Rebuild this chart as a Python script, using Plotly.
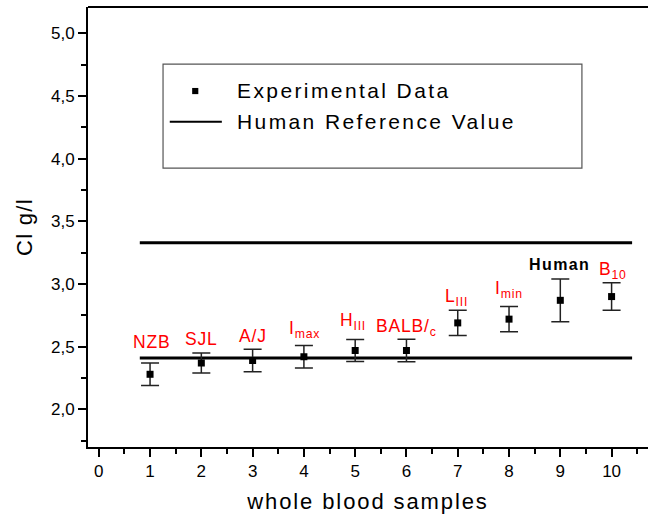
import plotly.graph_objects as go

# ---- data ----
samples = [1, 2, 3, 4, 5, 6, 7, 8, 9, 10]
cl_values = [2.28, 2.37, 2.39, 2.42, 2.47, 2.47, 2.69, 2.72, 2.87, 2.90]
cl_errors = [0.09, 0.08, 0.09, 0.09, 0.087, 0.09, 0.10, 0.10, 0.17, 0.11]
labels = ["NZB", "SJL", "A/J", "I<sub>max</sub>", "H<sub>III</sub>", "BALB/<sub>c</sub>",
          "L<sub>III</sub>", "I<sub>min</sub>", "<b>Human</b>", "B<sub>10</sub>"]
label_x = [1.03, 2.0, 3.0, 4.02, 4.95, 6.01, 6.97, 7.99, 8.99, 10.02]
label_y = [2.537, 2.565, 2.585, 2.64, 2.70, 2.65, 2.89, 2.955, 3.158, 3.11]
label_colors = ["#ff0000"] * 8 + ["#000000", "#ff0000"]
ref_x = [0.8, 10.4]
ref_low = 2.41
ref_high = 3.33
x_ticks = list(range(0, 11))
legend_labels = ["Experimental Data", "Human Reference Value"]

FONT = "Liberation Sans"


def spaced(t, ls):
    return f'<span style="letter-spacing:{ls}px">{t}</span>'


fig = go.Figure()

# Human reference value lines
fig.add_trace(go.Scatter(
    x=ref_x + [None] + ref_x,
    y=[ref_low, ref_low, None, ref_high, ref_high],
    mode="lines", line=dict(color="black", width=3),
    name=legend_labels[1], hoverinfo="skip"))

# Experimental data
fig.add_trace(go.Scatter(
    x=samples, y=cl_values, mode="markers",
    marker=dict(symbol="square", size=7, color="black"),
    error_y=dict(type="data", array=cl_errors, visible=True,
                 color="#222222", thickness=1.5, width=9),
    name=legend_labels[0]))

# labels
for x, y, t, c in zip(label_x, label_y, labels, label_colors):
    black = c == "#000000"
    fig.add_annotation(x=x, y=y, text=spaced(t, 1.4 if black else 0.8),
                       showarrow=False, xanchor="center", yanchor="middle",
                       font=dict(family=FONT, size=16 if black else 17.5, color=c))

# legend box (manual)
fig.add_shape(type="rect", xref="paper", yref="paper",
              x0=0.134, x1=0.882, y0=0.634, y1=0.870,
              line=dict(color="#555555", width=1.2), fillcolor="white", layer="below")
fig.add_shape(type="rect", xref="paper", yref="paper",
              x0=0.186, x1=0.197, y0=0.802, y1=0.816,
              line=dict(width=0), fillcolor="black")
fig.add_shape(type="line", xref="paper", yref="paper",
              x0=0.146, x1=0.239, y0=0.739, y1=0.739,
              line=dict(color="black", width=2))
fig.add_annotation(xref="paper", yref="paper", x=0.262, y=0.810,
                   text=spaced(legend_labels[0], 2.4), showarrow=False,
                   xanchor="left", yanchor="middle",
                   font=dict(family=FONT, size=21, color="black"))
fig.add_annotation(xref="paper", yref="paper", x=0.262, y=0.739,
                   text=spaced(legend_labels[1], 2.4), showarrow=False,
                   xanchor="left", yanchor="middle",
                   font=dict(family=FONT, size=21, color="black"))

# top frame line
fig.add_shape(type="line", xref="paper", yref="paper", x0=0, x1=1, y0=1, y1=1,
              line=dict(color="black", width=2))

fig.update_layout(
    width=648, height=516,
    margin=dict(l=88, r=0, t=7, b=69, pad=0),
    plot_bgcolor="white", paper_bgcolor="white",
    showlegend=False,
    separators=",.",
    font=dict(family=FONT, color="black"),
    xaxis=dict(
        range=[-0.21, 10.71], tickvals=x_ticks,
        showline=True, linewidth=2, linecolor="black",
        ticks="outside", ticklen=8, tickwidth=1.5, tickcolor="black",
        minor=dict(dtick=0.5, tick0=0, ticks="outside", ticklen=5,
                   tickwidth=1.5, tickcolor="black"),
        showgrid=False, zeroline=False,
        tickfont=dict(family=FONT, size=17, color="black"),
        title=dict(text=spaced("whole blood samples", 1.9),
                   font=dict(family=FONT, size=22, color="black"), standoff=13),
    ),
    yaxis=dict(
        range=[1.70, 5.21], dtick=0.5, tick0=0, tickformat=".1f",
        showline=True, linewidth=2, linecolor="black",
        ticks="outside", ticklen=8, tickwidth=1.5, tickcolor="black",
        minor=dict(dtick=0.25, tick0=0, ticks="outside", ticklen=5,
                   tickwidth=1.5, tickcolor="black"),
        showgrid=False, zeroline=False,
        tickfont=dict(family=FONT, size=17, color="black"),
        title=dict(text=spaced("Cl g/l", 1.3),
                   font=dict(family=FONT, size=22, color="black"), standoff=12),
    ),
)

fig.write_html("out.html")
